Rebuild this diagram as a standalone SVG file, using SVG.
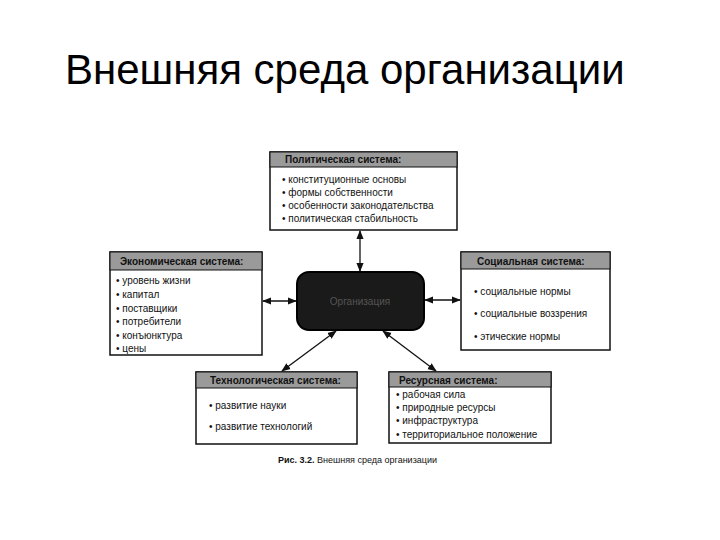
<svg xmlns="http://www.w3.org/2000/svg" width="720" height="540" viewBox="0 0 720 540">
<style>
.box{fill:#fff;stroke:#111;stroke-width:1.5}
.hd{fill:#9a9a9a;stroke:#111;stroke-width:1}
.ht{font-family:"Liberation Sans",Arial,sans-serif;font-size:10px;font-weight:bold;fill:#111}
.t{font-family:"Liberation Sans",Arial,sans-serif;font-size:10px;fill:#111}
.c{stroke:#111;stroke-width:1.3;fill:none;marker-start:url(#a);marker-end:url(#a)}
</style>
<defs><marker id="a" viewBox="0 0 10 10" refX="9" refY="5" markerWidth="7" markerHeight="7" orient="auto-start-reverse"><path d="M0,1L10,5L0,9z" fill="#111"/></marker></defs>
<rect width="720" height="540" fill="#fff"/>
<text x="65" y="84" font-family="Liberation Sans,Arial,sans-serif" font-size="42" fill="#000">Внешняя среда организации</text>
<g id="connectors">
<line class="c" x1="360" y1="231" x2="360" y2="271"/>
<line class="c" x1="263" y1="301" x2="296" y2="301"/>
<line class="c" x1="425" y1="300" x2="460" y2="300"/>
<line class="c" x1="336" y1="331" x2="282" y2="371"/>
<line class="c" x1="383" y1="331" x2="436" y2="371"/>
</g>
<g id="center"><rect x="297" y="272" width="127" height="58" rx="12" fill="#1a1a1a" stroke="#000" stroke-width="2"/>
<text x="360" y="305" text-anchor="middle" class="t" font-size="12" style="fill:#555">Организация</text></g>
<g id="political"><rect class="box" x="270" y="152" width="187" height="78"/><rect class="hd" x="270" y="152" width="187" height="15"/>
<text class="ht" x="285" y="163">Политическая система:</text>
<text class="t" x="282" y="183">• конституционные основы</text>
<text class="t" x="282" y="196">• формы собственности</text>
<text class="t" x="282" y="209">• особенности законодательства</text>
<text class="t" x="282" y="222">• политическая стабильность</text></g>
<g id="economic"><rect class="box" x="110" y="252" width="152" height="103"/><rect class="hd" x="110" y="252" width="152" height="18"/>
<text class="ht" x="120" y="265">Экономическая система:</text>
<text class="t" x="116" y="284">• уровень жизни</text>
<text class="t" x="116" y="298">• капитал</text>
<text class="t" x="116" y="312">• поставщики</text>
<text class="t" x="116" y="325">• потребители</text>
<text class="t" x="116" y="339">• конъюнктура</text>
<text class="t" x="116" y="352">• цены</text></g>
<g id="social"><rect class="box" x="461" y="252" width="149" height="98"/><rect class="hd" x="461" y="252" width="149" height="17"/>
<text class="ht" x="477" y="265">Социальная система:</text>
<text class="t" x="474" y="295">• социальные нормы</text>
<text class="t" x="474" y="317">• социальные воззрения</text>
<text class="t" x="474" y="340">• этические нормы</text></g>
<g id="technological"><rect class="box" x="196" y="372" width="161" height="72"/><rect class="hd" x="196" y="372" width="161" height="16"/>
<text class="ht" x="210" y="384">Технологическая система:</text>
<text class="t" x="209" y="409">• развитие науки</text>
<text class="t" x="209" y="430">• развитие технологий</text></g>
<g id="resource"><rect class="box" x="389" y="372" width="162" height="71"/><rect class="hd" x="389" y="372" width="162" height="15"/>
<text class="ht" x="399" y="384">Ресурсная система:</text>
<text class="t" x="396" y="398">• рабочая сила</text>
<text class="t" x="396" y="411">• природные ресурсы</text>
<text class="t" x="396" y="424">• инфраструктура</text>
<text class="t" x="396" y="438">• территориальное положение</text></g>
<text x="278" y="463" font-family="Liberation Sans,Arial,sans-serif" font-size="9" fill="#111"><tspan font-weight="bold">Рис. 3.2.</tspan> Внешняя среда организации</text>
</svg>
